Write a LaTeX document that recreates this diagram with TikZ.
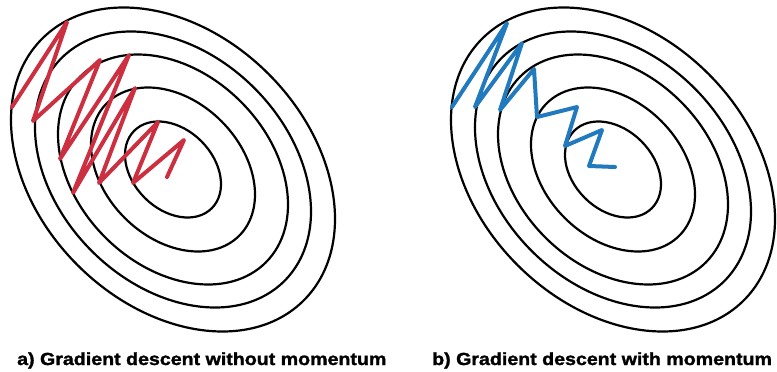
\documentclass[tikz,border=0pt]{standalone}
\usepackage{graphicx}
\usepackage{fontspec}
\setmainfont{Liberation Sans}
\newfontfamily\capfont[FakeBold=1.5]{Liberation Sans Bold}
\begin{document}
\begin{tikzpicture}[x=1pt, y=-1pt, line cap=round, line join=round]

  % Colors
  \definecolor{plaincolor}{HTML}{CC2F40} % red
  \definecolor{momcolor}{HTML}{2179BE} % blue

  \tikzset{
    ring/.style={black, line width=2.2pt},
    walk/.style={line width=4pt},
    caption/.style={anchor=base west, inner sep=0pt, font=\fontsize{17.5}{20}\selectfont\capfont}
  }
  \def\xstretch{1.12} % captions are drawn wide

  \useasboundingbox (0,0) rectangle (777,372);

  % PART 1: Gradient descent without momentum
  \begin{scope}[shift={(173,169.5)}, rotate=-45]
    % level sets, outer to inner
    \foreach \e in {162,138,115,82,48}
      \draw[ring] (0,0) ellipse [x radius={1.142*\e pt}, y radius={0.834*\e pt}];
  \end{scope}
  \draw[walk, plaincolor] (12,107) -- (67,22) -- (33,121) -- (100,60) -- (60,159)
    -- (129,55) -- (73,193) -- (135,88) -- (99,183) -- (158,122) -- (133,183)
    -- (184,140) -- (167,177);
  \node[caption] (capa) at (17,365) {\scalebox{\xstretch}[1]{a) Gradient descent without momentum}};

  % PART 2: Gradient descent with momentum
  \begin{scope}[shift={(613,169.5)}, rotate=-45]
    \foreach \e in {162,138,115,82,48}
      \draw[ring] (0,0) ellipse [x radius={1.142*\e pt}, y radius={0.834*\e pt}];
  \end{scope}
  \draw[walk, momcolor] (452,107) -- (507,23) -- (475,107) -- (522,43) -- (500,110)
    -- (534,69) -- (537,117) -- (577,107) -- (565,146) -- (602,130) -- (589,166)
    -- (615,167);
  \node[caption] (capb) at (432,365) {\scalebox{\xstretch}[1]{b) Gradient descent with momentum}};

\end{tikzpicture}
\end{document}
